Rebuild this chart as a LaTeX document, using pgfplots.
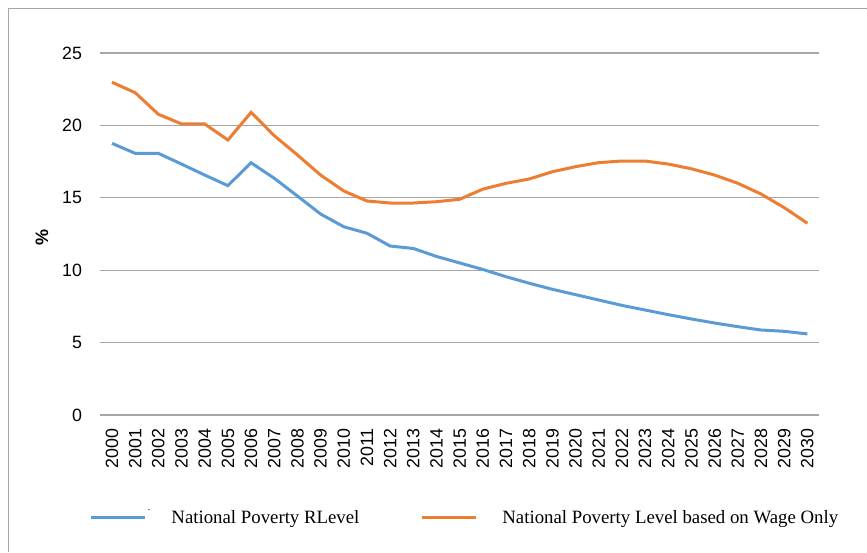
\documentclass[border=0pt]{standalone}
\usepackage{pgfplots}
\pgfplotsset{compat=1.18}
\usepackage{fontspec}
\setmainfont{Liberation Serif}
\setsansfont{Liberation Sans}
\definecolor{cblue}{HTML}{5B9BD5}
\definecolor{corange}{HTML}{ED7D31}
\definecolor{gridgray}{HTML}{A6A6A6}
\begin{document}
\begin{tikzpicture}
\useasboundingbox (0pt,0pt) rectangle (433.5pt,276pt);
\draw[gridgray,line width=0.6pt] (4.25pt,0pt) -- (4.25pt,271.75pt) -- (433.5pt,271.75pt);
\begin{axis}[
  at={(50.2pt,68.5pt)}, anchor=south west,
  scale only axis, width=359.3pt, height=181pt,
  xmin=1999.5, xmax=2030.5, ymin=0, ymax=25,
  xtick={2000,...,2030}, ytick={0,5,...,25},
  axis line style={draw=none},
  major tick length=0pt,
  ymajorgrids, grid style={gridgray,line width=0.65pt},
  /pgf/number format/assume math mode=true,
  /pgf/number format/1000 sep={},
  tick label style={font=\sffamily\fontsize{8.9}{10}\selectfont},
  xticklabel style={rotate=90, anchor=east, inner sep=0pt},
  xticklabel shift=6.5pt,
  yticklabel style={inner sep=0pt},
  yticklabel shift=9pt,
  legend style={at={(0.5085,-0.2845)}, anchor=center, draw=none, fill=none,
    legend columns=2, font=\rmfamily\fontsize{9.4}{10}\selectfont,
    /tikz/every even column/.append style={column sep=28.5pt}},
  legend image code/.code={\draw[#1,line width=1.5pt] (0pt,0pt) -- (27pt,0pt);},
  legend cell align=left,
]
\addplot[cblue, line width=1.5pt] coordinates {
(2000,18.76) (2001,18.07) (2002,18.07) (2003,17.33) (2004,16.57) (2005,15.84)
(2006,17.42) (2007,16.35) (2008,15.12) (2009,13.88) (2010,13.0) (2011,12.55)
(2012,11.67) (2013,11.5) (2014,10.95) (2015,10.5) (2016,10.05) (2017,9.55)
(2018,9.1) (2019,8.68) (2020,8.31) (2021,7.94) (2022,7.57) (2023,7.25)
(2024,6.93) (2025,6.63) (2026,6.35) (2027,6.10) (2028,5.87) (2029,5.78) (2030,5.6)};
\addlegendentry{\hspace{10.5pt}National Poverty RLevel}
\addplot[corange, line width=1.5pt] coordinates {
(2000,22.98) (2001,22.26) (2002,20.77) (2003,20.10) (2004,20.10) (2005,18.99)
(2006,20.90) (2007,19.29) (2008,17.96) (2009,16.57) (2010,15.47) (2011,14.78)
(2012,14.64) (2013,14.64) (2014,14.73) (2015,14.9) (2016,15.6) (2017,16.0)
(2018,16.3) (2019,16.8) (2020,17.15) (2021,17.43) (2022,17.54) (2023,17.54)
(2024,17.33) (2025,17.0) (2026,16.57) (2027,16.0) (2028,15.26) (2029,14.32) (2030,13.24)};
\addlegendentry{\hspace{10.5pt}National Poverty Level based on Wage Only}
\end{axis}
\node[font=\sffamily\bfseries\fontsize{9}{10}\selectfont, rotate=90] at (21pt,157.5pt) {\%};
\node[font=\fontsize{5}{6}\selectfont, inner sep=0pt] at (74.5pt,21pt) {.};
\end{tikzpicture}
\end{document}
